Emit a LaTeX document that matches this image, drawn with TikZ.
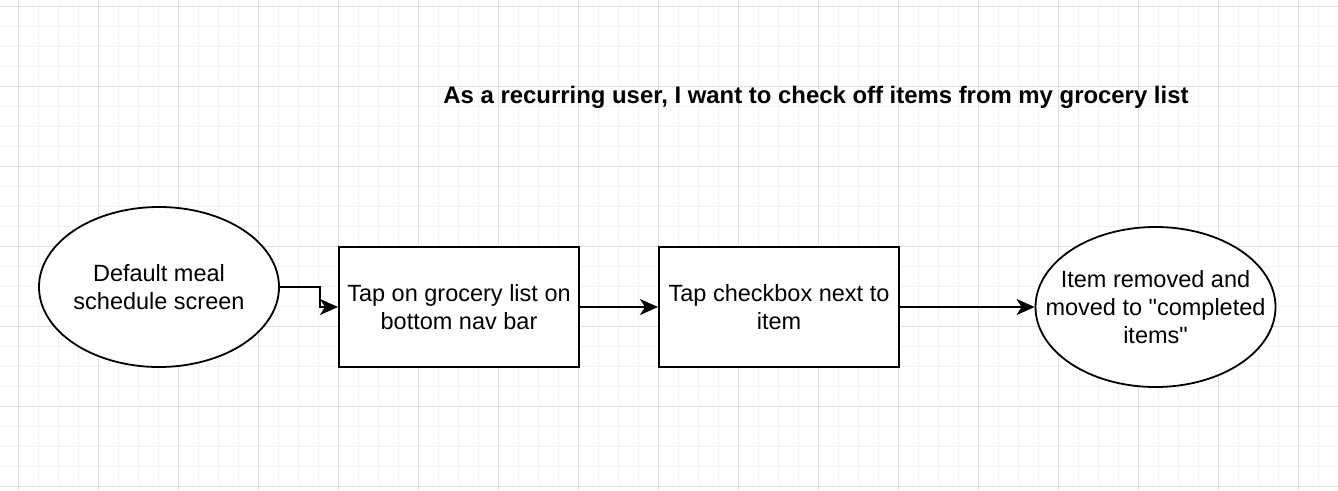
\documentclass[tikz,border=0pt]{standalone}
\usepackage{fontspec}
\setmainfont{Liberation Sans}[Ligatures=TeXOff]
\usetikzlibrary{arrows.meta,shapes.geometric}

\begin{document}
\begin{tikzpicture}[x=1pt,y=-1pt]
	\tikzstyle{minorline}=[line width=1pt, draw=black!5]
	\tikzstyle{majorline}=[line width=1pt, draw=black!13]
	\tikzstyle{endpoint}=[ellipse, draw, fill=white, line width=1.8pt, minimum width=240pt, minimum height=160pt, inner xsep=-30pt, inner ysep=0pt, align=center, font=\fontsize{23.5}{28}\selectfont]
	\tikzstyle{stepbox}=[rectangle, draw, fill=white, line width=2pt, minimum width=240pt, minimum height=120pt, inner sep=0pt, align=center, font=\fontsize{23.5}{28}\selectfont]
	\tikzstyle{flow}=[line width=2pt, -{Stealth[length=18pt, width=16pt, inset=5pt]}]
	\useasboundingbox (0,0) rectangle (1338,490);
	\fill[white] (0,0) rectangle (1338,490);
	% grid
	\foreach \x in {-2,18,...,1338} \draw[minorline] (\x,0) -- (\x,490);
	\foreach \y in {6,26,...,490} \draw[minorline] (0,\y) -- (1338,\y);
	\foreach \x in {18,98,...,1338} \draw[majorline] (\x,0) -- (\x,490);
	\foreach \y in {6,86,...,490} \draw[majorline] (0,\y) -- (1338,\y);
	% story
	\node[anchor=base, font=\fontsize{23.9}{28}\selectfont\bfseries] (title) at (816,103) {As a recurring user, I want to check off items from my grocery list};
	\node[endpoint] (start) at (159,287) {Default meal\\schedule screen};
	\node[stepbox] (tapnav) at (459,307) {Tap on grocery list on\\bottom nav bar};
	\node[stepbox] (tapcheck) at (779,307) {Tap checkbox next to\\item};
	\node[endpoint] (done) at (1155.5,307) {Item removed and\\moved to "completed\\items"};
	\draw[flow] (start.east) -- ++(40,0) |- (tapnav.west);
	\draw[flow] (tapnav) -- (tapcheck);
	\draw[flow] (tapcheck) -- (done);
\end{tikzpicture}
\end{document}
